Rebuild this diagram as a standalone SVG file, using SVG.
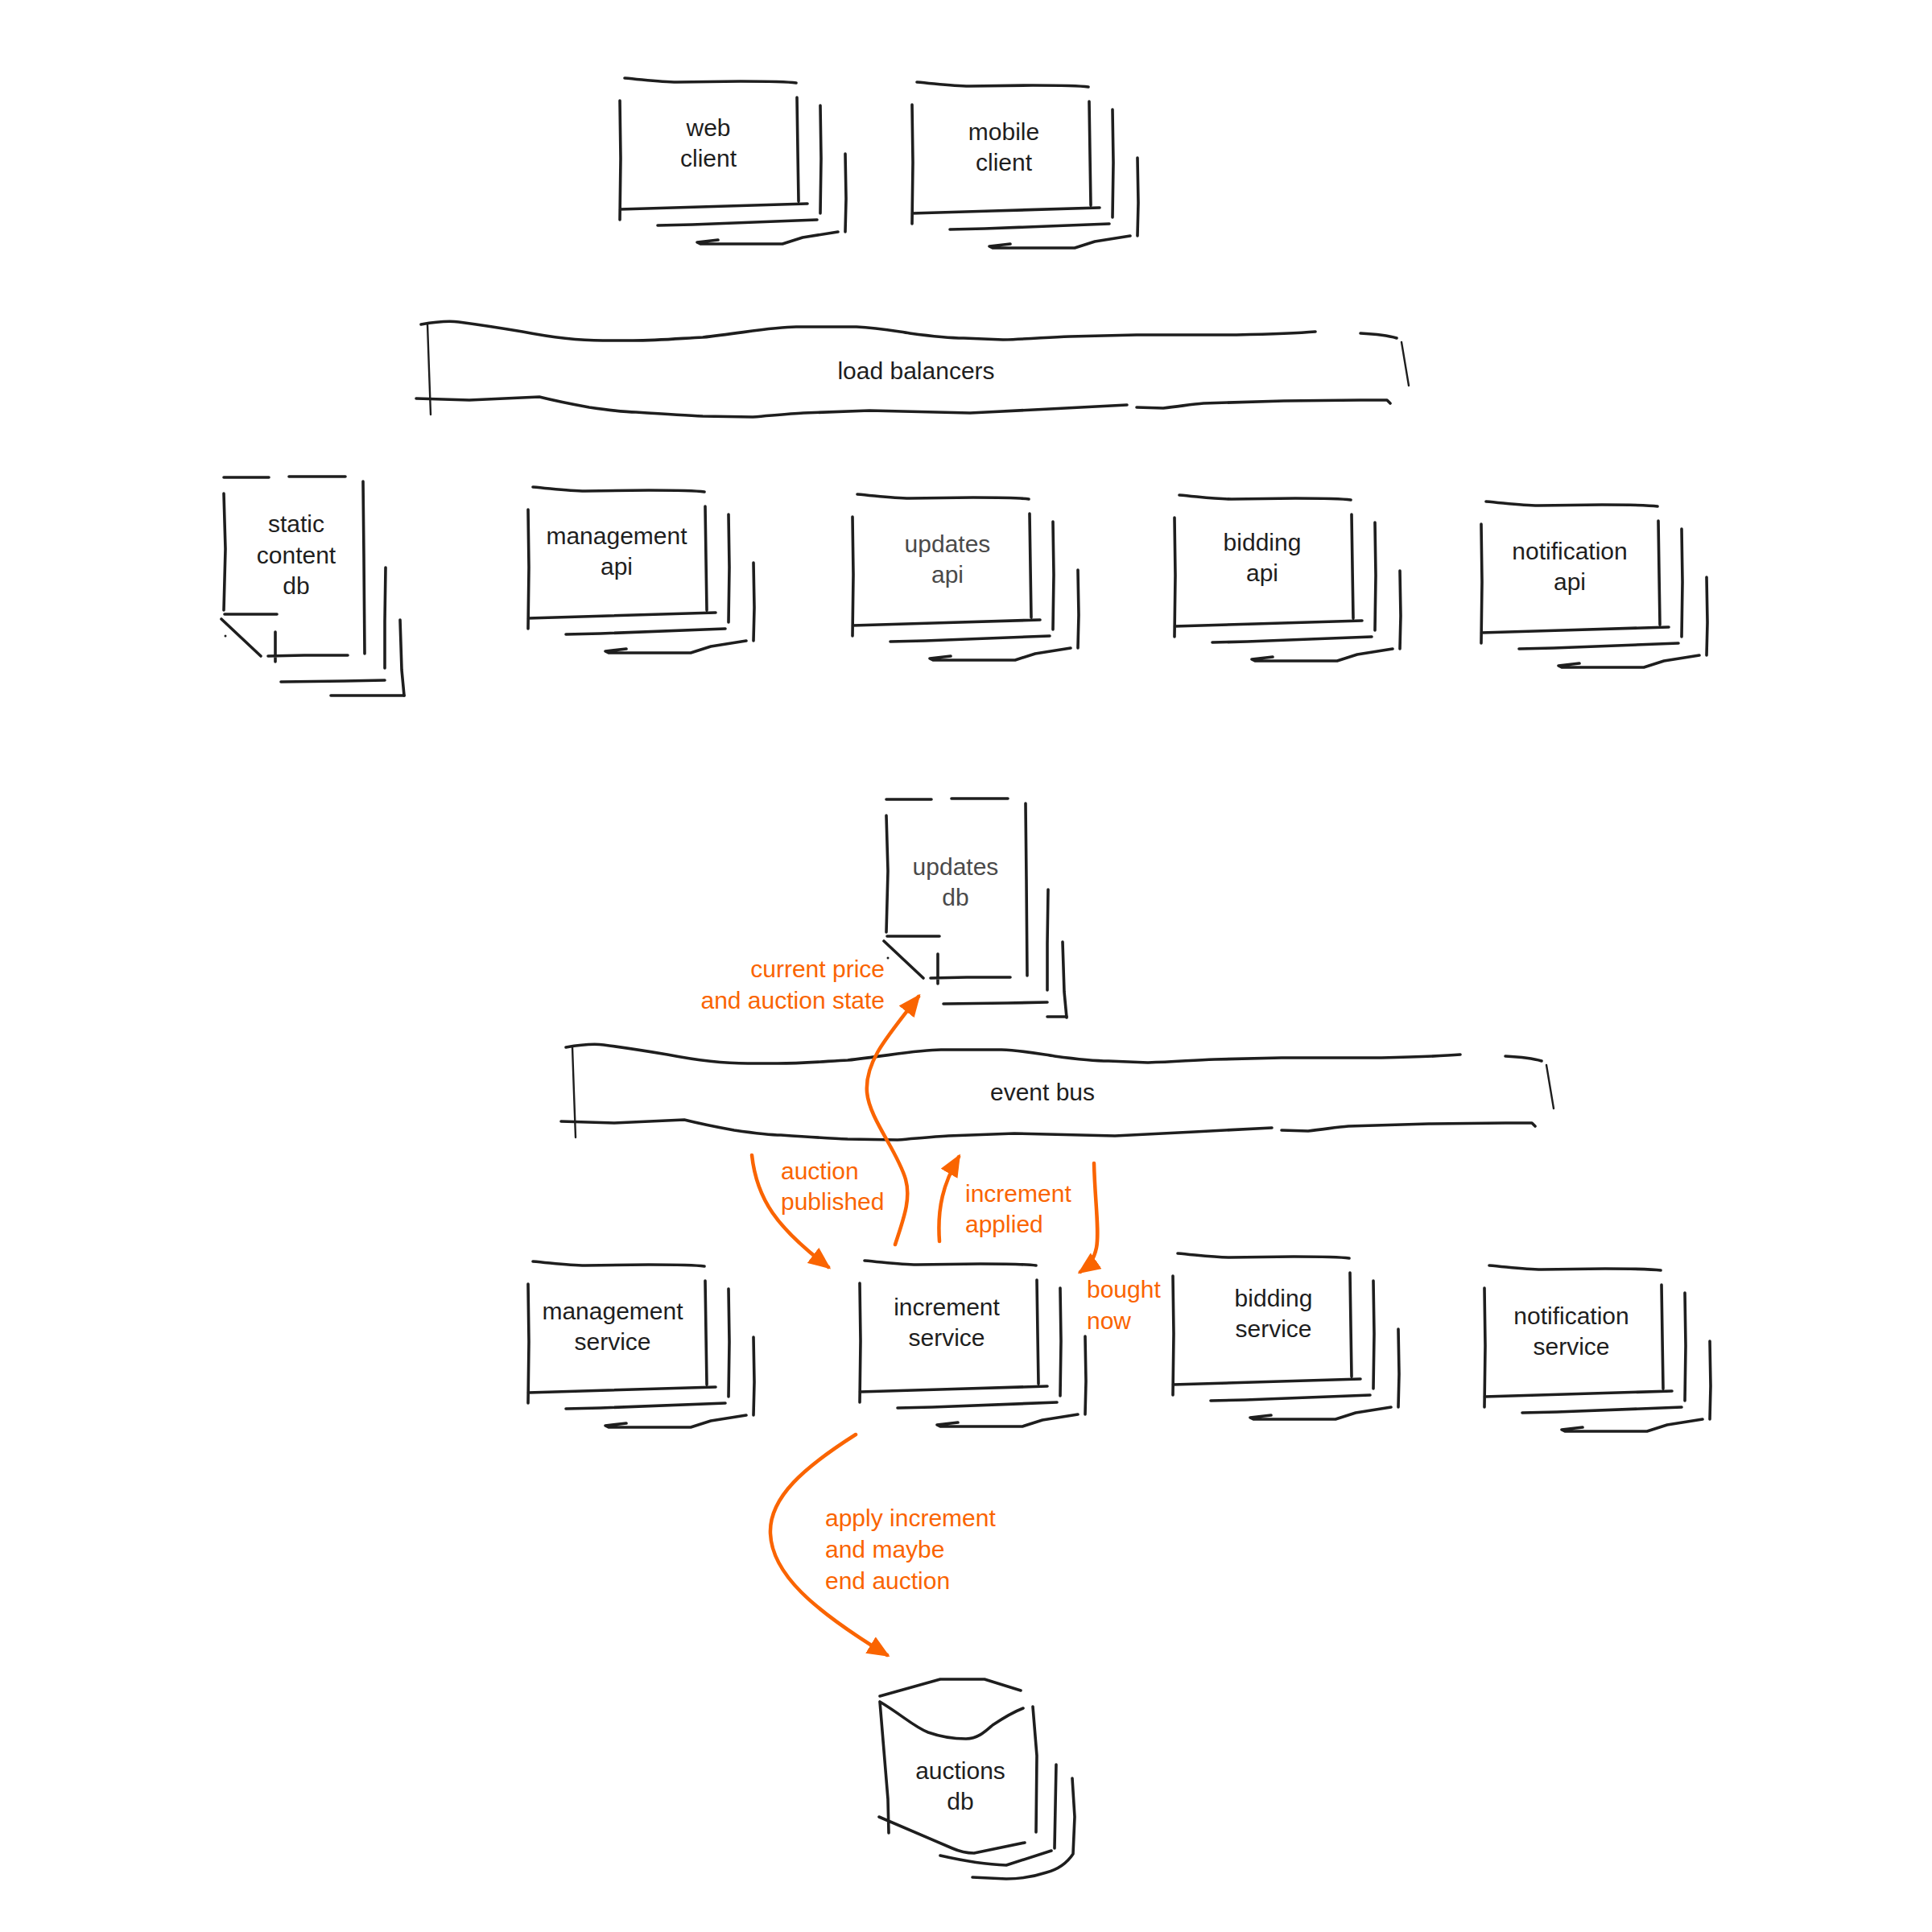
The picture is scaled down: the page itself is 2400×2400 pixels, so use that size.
<svg xmlns="http://www.w3.org/2000/svg" xmlns:xlink="http://www.w3.org/1999/xlink" width="2400" height="2400" viewBox="0 0 2400 2400">
<style>
.ln{fill:none;stroke:#1e1e1e;stroke-width:3.6;stroke-linecap:round;stroke-linejoin:round}
.thin{fill:none;stroke:#1e1e1e;stroke-width:2.4;stroke-linecap:round}
.ar{fill:none;stroke:#fa6400;stroke-width:4.5;stroke-linecap:round;marker-end:url(#ah)}
.t{font-family:"Liberation Sans",Arial,sans-serif;font-size:30px;fill:#1e1e1e;text-anchor:middle}
.g{fill:#4a4a4a}
.o{font-family:"Liberation Sans",Arial,sans-serif;font-size:30px;fill:#fa6400}
.e{text-anchor:end}
</style>
<defs>
<marker id="ah" markerUnits="userSpaceOnUse" viewBox="0 0 28 24" markerWidth="28" markerHeight="24" refX="24" refY="12" orient="auto">
<path d="M0,0 L28,12 L0,24 Z" fill="#fa6400"/>
</marker>
<path id="stack" class="ln" d="M6,0 C30,2 50,5 71,5 L150,4 C180,4 205,4 219,6 M0,28 L1,100 L0,176 M220,24 L221,90 L222,153 M0,163 L100,160 L233,156 M249,34 L250,100 L249,168 M47,183 L90,182 L245,176 M280,94 L281,150 L280,191 M122,201 L96,204 L100,206 L202,206 L227,198 L271,191"/>
<g id="dbstack">
<path class="ln" d="M0,1 L56,1 M81,0 L151,0 M0,21 L2,90 L0,166 M173,6 L174,100 L175,220 M1,171 L66,171 M-3,177 L46,223 M64,193 L64,230 M55,223 L100,222 L154,222 M201,113 L200,180 L200,238 M71,255 L150,254 L200,253 M219,178 L221,240 L224,272"/>
<circle cx="2" cy="198" r="1.5" fill="#1e1e1e"/>
</g>
<g id="band">
<path class="ln" d="M523,403 C540,400 555,398 570,400 C600,404 625,408 649,412 C690,420 720,423 749,423 L786,423 C820,423 850,420 873,419 C920,414 960,406 989,406 L1064,406 C1090,407 1110,411 1130,414 C1160,418 1180,420 1197,420 L1246,422 C1280,421 1300,419 1329,418 L1412,416 L1536,416 C1580,415 1610,414 1634,412 M1690,414 C1710,415 1725,417 1735,420 M517,495 L583,497 L670,493 C690,498 710,502 732,506 C760,510 780,512 790,512 C820,514 850,516 873,517 L935,518 C960,516 980,514 998,513 L1080,510 C1130,511 1170,512 1205,513 L1304,508 L1400,503 M1412,506 L1445,507 C1465,505 1480,502 1495,501 L1595,498 L1690,497 L1723,497 L1727,501"/>
<path class="thin" d="M531,403 L533,460 L535,515 M1741,425 L1750,479"/>
</g>
</defs>

<g id="web-client">
<use href="#stack" x="770" y="97"/>
<text class="t" x="880" y="169">web</text>
<text class="t" x="880" y="207">client</text>
</g>
<g id="mobile-client">
<use href="#stack" x="1133" y="102"/>
<text class="t" x="1247" y="174">mobile</text>
<text class="t" x="1247" y="212">client</text>
</g>

<g id="load-balancers">
<use href="#band"/>
<text class="t" x="1138" y="471">load balancers</text>
</g>

<g id="static-content-db">
<use href="#dbstack" x="278" y="592"/>
<path class="ln" d="M411,864 L502,864"/>
<text class="t" x="368" y="661">static</text>
<text class="t" x="368" y="700">content</text>
<text class="t" x="368" y="738">db</text>
</g>
<g id="management-api">
<use href="#stack" x="656" y="605"/>
<text class="t" x="766" y="676">management</text>
<text class="t" x="766" y="714">api</text>
</g>
<g id="updates-api">
<use href="#stack" x="1059" y="614"/>
<text class="t g" x="1177" y="686">updates</text>
<text class="t g" x="1177" y="724">api</text>
</g>
<g id="bidding-api">
<use href="#stack" x="1459" y="615"/>
<text class="t" x="1568" y="684">bidding</text>
<text class="t" x="1568" y="722">api</text>
</g>
<g id="notification-api">
<use href="#stack" x="1840" y="623"/>
<text class="t" x="1950" y="695">notification</text>
<text class="t" x="1950" y="733">api</text>
</g>

<g id="updates-db">
<use href="#dbstack" x="1101" y="992"/>
<path class="ln" d="M1301,1263 L1325,1263"/>
<text class="t g" x="1187" y="1087">updates</text>
<text class="t g" x="1187" y="1125">db</text>
</g>

<g id="event-bus">
<use href="#band" transform="translate(180,898)"/>
<text class="t" x="1295" y="1367">event bus</text>
</g>

<g id="management-service">
<use href="#stack" x="656" y="1567"/>
<text class="t" x="761" y="1639">management</text>
<text class="t" x="761" y="1677">service</text>
</g>
<g id="increment-service">
<use href="#stack" x="1068" y="1566"/>
<text class="t" x="1176" y="1634">increment</text>
<text class="t" x="1176" y="1672">service</text>
</g>
<g id="bidding-service">
<use href="#stack" x="1457" y="1557"/>
<text class="t" x="1582" y="1623">bidding</text>
<text class="t" x="1582" y="1661">service</text>
</g>
<g id="notification-service">
<use href="#stack" x="1844" y="1572"/>
<text class="t" x="1952" y="1645">notification</text>
<text class="t" x="1952" y="1683">service</text>
</g>

<g id="auctions-db">
<path class="ln" d="M1093,2107 L1168,2086 L1223,2086 L1268,2100 M1093,2114 L1103,2235 L1104,2277 M1093,2114 C1120,2130 1135,2145 1153,2152 C1170,2158 1185,2160 1200,2160 C1215,2160 1225,2150 1233,2143 C1245,2135 1258,2127 1271,2122 M1283,2120 L1288,2181 L1287,2276 M1092,2257 L1183,2296 C1192,2300 1200,2302 1210,2302 L1273,2289 M1312,2192 L1310,2296 M1168,2305 C1190,2310 1220,2316 1250,2317 L1306,2299 M1332,2209 L1335,2257 L1333,2303 C1325,2315 1315,2322 1300,2326 C1285,2331 1265,2334 1250,2334 L1208,2332"/>
<text class="t" x="1193" y="2210">auctions</text>
<text class="t" x="1193" y="2248">db</text>
</g>

<g id="connectors">
<path class="ar" d="M1112,1546 C1122,1515 1132,1490 1125,1465 C1115,1430 1080,1390 1077,1357 C1074,1320 1100,1290 1141,1238"/>
<text class="o e" x="1099" y="1214">current price</text>
<text class="o e" x="1099" y="1253">and auction state</text>
<path class="ar" d="M934,1435 C940,1490 965,1525 1029,1574"/>
<text class="o" x="970" y="1465">auction</text>
<text class="o" x="970" y="1503">published</text>
<path class="ar" d="M1167,1542 C1164,1500 1172,1470 1191,1437"/>
<text class="o" x="1199" y="1493">increment</text>
<text class="o" x="1199" y="1531">applied</text>
<path class="ar" d="M1359,1445 C1360,1490 1366,1530 1362,1550 C1359,1565 1352,1573 1342,1580"/>
<text class="o" x="1350" y="1612">bought</text>
<text class="o" x="1350" y="1651">now</text>
<path class="ar" d="M1063,1782 C1000,1822 955,1860 957,1905 C959,1955 1010,2000 1102,2056"/>
<text class="o" x="1025" y="1896">apply increment</text>
<text class="o" x="1025" y="1935">and maybe</text>
<text class="o" x="1025" y="1974">end auction</text>
</g>
</svg>
